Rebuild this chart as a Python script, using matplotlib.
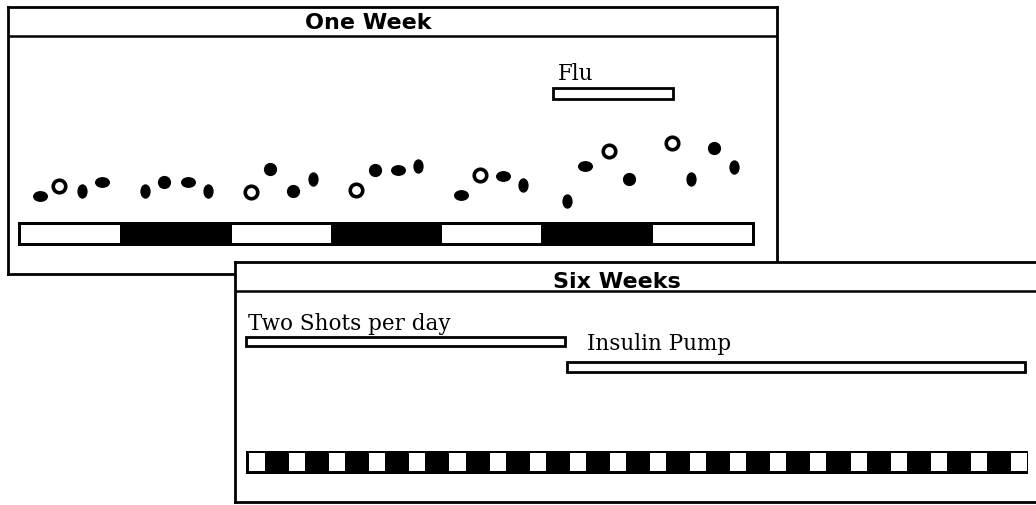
# Two overlapping "windows": one week of glucose readings, and a six-week overview

import numpy as np
import matplotlib.pyplot as plt
from matplotlib.markers import MarkerStyle
from matplotlib.transforms import Affine2D

# --- one week: 4 readings a day (breakfast, lunch, dinner, bedtime) ---
days = np.arange(7)
day_shade = [0, 1, 0, 1, 0, 1, 0]          # 0 = white day, 1 = black day
reading_times = [0.21, 0.39, 0.61, 0.80]   # fraction of the day
readings = [
    [50, 60, 55, 64],
    [55, 64, 64, 55],
    [54, 77, 55, 67],
    [56, 76, 76, 80],
    [51, 71, 70, 61],
    [45, 80, 95, 67],
    [103, 67, 98, 79],
]
# o = open ring, v = tall oval, h = wide oval, d = dot
reading_kind = [
    ['h', 'o', 'v', 'h'],
    ['v', 'd', 'h', 'v'],
    ['o', 'd', 'd', 'v'],
    ['o', 'd', 'h', 'v'],
    ['h', 'o', 'h', 'v'],
    ['v', 'h', 'o', 'd'],
    ['o', 'v', 'd', 'v'],
]
flu_start, flu_end = 5.08, 6.22

# --- six weeks: day/night cells and treatment periods ---
n_cells = 20
regimens = ['Two Shots per day', 'Insulin Pump']
regimen_start = [0.0, 8.0]
regimen_end = [7.96, 19.43]

W, H = 1036, 506
fig = plt.figure(figsize=(W / 100, H / 100), dpi=100)
fig.patch.set_facecolor('white')


def px_axes(left, top, right, bottom):
    return fig.add_axes([left / W, 1 - bottom / H, (right - left) / W, (bottom - top) / H])


serif = 'DejaVu Serif'
title_font = dict(fontsize=16, fontweight='bold', family='DejaVu Sans')

# ----- One Week window -----
ax1 = px_axes(8, 8, 777, 275)
ax1.set_xlim(-0.095, 7.209)
ax1.set_ylim(-28, 239)
ax1.set_xticks([])
ax1.set_yticks([])
for s in ax1.spines.values():
    s.set_linewidth(2)
ax1.axhline(210, color='black', lw=1.8)
ax1.text(3.33, 224, 'One Week', ha='center', va='center', **title_font)

ax1.bar(0, width=7, bottom=0, height=24, align='edge', color='black')
white_days = [d for d, s in zip(days, day_shade) if s == 0]
ax1.bar(np.array(white_days) + 0.03, width=0.94, bottom=3, height=18,
        align='edge', color='white')

marker_shapes = {
    'o': MarkerStyle('o'),
    'v': MarkerStyle('o', transform=Affine2D().scale(0.75, 1.1)),
    'h': MarkerStyle('o', transform=Affine2D().scale(1.15, 0.8)),
    'd': MarkerStyle('o'),
}
for d in days:
    for t, val, k in zip(reading_times, readings[d], reading_kind[d]):
        if k == 'o':
            ax1.plot(d + t, val, marker=marker_shapes[k], ms=9, mfc='white',
                     mec='black', mew=2.6, ls='none')
        else:
            ax1.plot(d + t, val, marker=marker_shapes[k], ms=8.5, mfc='black',
                     mec='black', ls='none')

ax1.bar(flu_start, width=flu_end - flu_start, bottom=147, height=11, align='edge',
        facecolor='white', edgecolor='black', linewidth=2)
ax1.text(flu_start + 0.05, 167, 'Flu', fontsize=15.5, family=serif, va='baseline')

# ----- Six Weeks window (on top) -----
ax2 = px_axes(235, 263, 1050, 503)
ax2.set_zorder(2)
ax2.set_facecolor('white')
ax2.set_xlim(-0.274, 20.05)
ax2.set_ylim(0, 240)
ax2.set_xticks([])
ax2.set_yticks([])
for s in ax2.spines.values():
    s.set_linewidth(2)
ax2.axhline(211, color='black', lw=1.8)
ax2.text(9.24, 221, 'Six Weeks', ha='center', va='center', **title_font)

ax2.bar(0, width=n_cells - 0.5, bottom=28, height=23, align='edge', color='black')
ax2.bar(np.arange(n_cells) + 0.075, width=0.4, bottom=31, height=18,
        align='edge', color='white')

reg_bottom = [156, 130]
reg_height = [9, 10]
label_dx = [0.05, 0.5]
label_y = [173, 153]
for name, a, b, yb, hh, dx, ly in zip(regimens, regimen_start, regimen_end,
                                     reg_bottom, reg_height, label_dx, label_y):
    ax2.bar(a, width=b - a, bottom=yb, height=hh, align='edge', facecolor='white',
            edgecolor='black', linewidth=2)
    ax2.text(a + dx, ly, name, fontsize=15.5, family=serif, va='baseline')

fig.savefig('out.png', dpi=100)
